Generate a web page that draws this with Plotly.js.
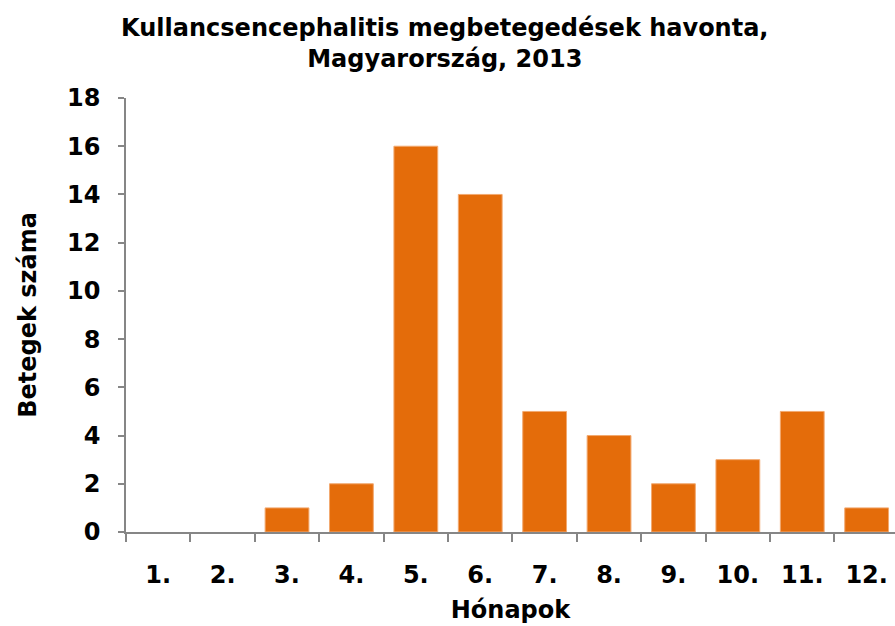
<!DOCTYPE html>
<html><head><meta charset="utf-8">
<script src="https://cdn.plot.ly/plotly-3.0.1.min.js"></script>
<style>body{margin:0;padding:0;background:#fff}#chart{width:895px;height:626px}</style>
</head><body><div id="chart"></div>
<script>
const months = ["1.","2.","3.","4.","5.","6.","7.","8.","9.","10.","11.","12."];
const cases = [0,0,1,2,16,14,5,4,2,3,5,1];
const yTicks = [0,2,4,6,8,10,12,14,16,18];

const fam = "DejaVu Sans, Liberation Sans, Arial, sans-serif";
Plotly.newPlot("chart", [{
  type:"bar", x:months, y:cases,
  marker:{color:"#E46C0A", line:{color:"#F2A970", width:cases.map(v => v > 0 ? 1 : 0)}},
  hoverinfo:"x+y"
}], {
  width:895, height:626,
  margin:{l:126, r:0, t:98, b:94},
  paper_bgcolor:"#fff", plot_bgcolor:"#fff",
  bargap:0.32,
  showlegend:false,
  font:{family:fam, color:"#000", size:24},
  title:{text:"<b>Kullancsencephalitis megbetegedések havonta,<br>Magyarország, 2013</b>", x:0.497, xanchor:"center", y:0.943, yanchor:"top", font:{family:fam, size:24, color:"#000"}},
  xaxis:{
    type:"category", range:[-0.5, 11.44], automargin:false,
    showline:true, linecolor:"#868686", linewidth:1.5,
    ticks:"outside", ticklen:8, tickcolor:"#868686", tickwidth:1.5,
    tickson:"boundaries",
    showgrid:false, zeroline:false,
    tickfont:{family:fam, size:24, color:"#000", weight:"bold"},
    ticklabelstandoff:20,
    title:{text:"<b>Hónapok</b>", font:{family:fam, size:24, color:"#000"}, standoff:14}
  },
  yaxis:{
    range:[0,18], tickvals:yTicks, ticktext:yTicks.map(String), automargin:false,
    showline:true, linecolor:"#868686", linewidth:1.5,
    ticks:"outside", ticklen:6, tickcolor:"#868686", tickwidth:1.5,
    showgrid:false, zeroline:false,
    tickfont:{family:fam, size:24, color:"#000", weight:"bold"},
    ticklabelstandoff:13,
    title:{text:"<b>Betegek száma</b>", font:{family:fam, size:24, color:"#000"}, standoff:24}
  }
}, {displayModeBar:false});
</script></body></html>
